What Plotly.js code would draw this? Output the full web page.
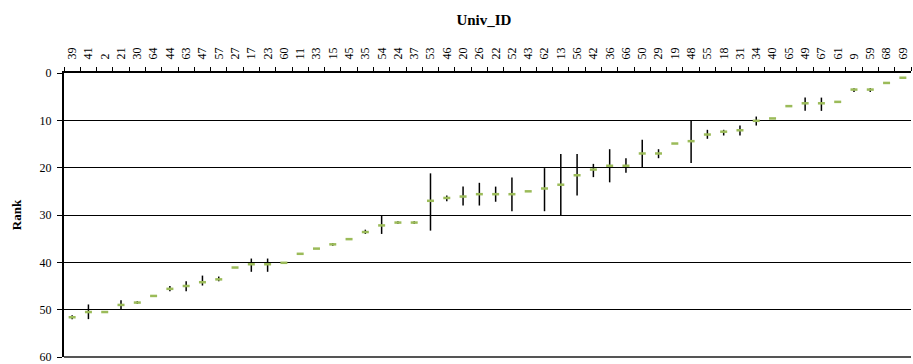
<!DOCTYPE html>
<html>
<head>
<meta charset="utf-8">
<script src="https://cdn.plot.ly/plotly-3.0.1.min.js"></script>
<style>html,body{margin:0;padding:0;background:#fff;}#chart{width:913px;height:364px;}</style>
</head>
<body>
<div id="chart"></div>
<script>
var univIds = ["39","41","2","21","30","64","44","63","47","57","27","17","23","60","11","33","15","45","35","54","24","37","53","46","20","26","22","52","43","62","13","56","42","36","66","50","29","19","48","55","18","31","34","40","65","49","67","61","9","59","68","69"];
var meanRank = [51.6,50.5,50.5,49.0,48.5,47.1,45.6,45.0,44.2,43.6,41.1,40.4,40.4,40.1,38.2,37.1,36.2,35.1,33.6,32.2,31.6,31.6,27.0,26.4,26.1,25.6,25.6,25.6,25.0,24.4,23.6,21.6,20.4,19.6,19.6,17.0,17.0,14.9,14.4,13.0,12.4,12.1,10.1,9.6,7.0,6.4,6.4,6.1,3.5,3.5,2.1,1.0];
var bestRank = [51.2,48.9,50.5,48.0,48.2,47.1,45.0,44.0,42.8,43.0,41.1,39.2,39.2,40.1,38.2,37.1,35.9,35.1,33.1,30.0,31.3,31.3,21.2,25.9,24.0,23.2,24.0,22.1,25.0,20.1,17.1,17.1,19.2,16.1,18.0,14.1,16.1,14.9,10.0,12.0,12.0,11.1,9.2,9.6,7.0,5.2,5.2,6.1,3.2,3.2,2.1,1.0];
var worstRank = [52.0,52.0,50.5,50.0,48.8,47.1,46.1,46.1,44.9,44.0,41.1,42.0,42.0,40.1,38.2,37.1,36.5,35.1,34.0,34.0,31.9,31.9,33.3,27.1,28.0,28.0,27.2,29.2,25.0,29.2,30.0,25.9,22.0,23.1,21.1,20.0,18.0,14.9,19.0,13.9,13.2,13.2,11.1,9.6,7.0,8.0,8.0,6.1,4.0,4.0,2.1,1.0];
var yTicks = [0,10,20,30,40,50,60];

var plusArr = worstRank.map(function(v,i){return Math.max(0, v - meanRank[i]);});
var minusArr = bestRank.map(function(v,i){return Math.max(0, meanRank[i] - v);});

var trace = {
  type: "scatter",
  mode: "markers",
  x: univIds,
  y: meanRank,
  marker: {symbol: "line-ew-open", size: 5, color: "#9BBB59", line: {color: "#9BBB59", width: 2.5}},
  error_y: {type: "data", symmetric: false, array: plusArr, arrayminus: minusArr, color: "#000000", thickness: 1.5, width: 0},
  hoverinfo: "x+y",
  showlegend: false
};

var layout = {
  width: 913, height: 364,
  margin: {l: 64, r: 2, t: 73, b: 7, pad: 0},
  paper_bgcolor: "#ffffff", plot_bgcolor: "#ffffff",
  title: {text: "<b>Univ_ID</b>", font: {family: "Liberation Serif, Times New Roman, serif", size: 15, color: "#000"}, x: 0.53, xanchor: "center", y: 1 - 20/364, yanchor: "middle", yref: "container"},
  xaxis: {
    type: "category", side: "top", tickangle: -90,
    tickson: "boundaries", ticks: "outside", ticklen: 4, tickcolor: "#000", tickwidth: 1,
    ticklabelstandoff: 9,
    showline: true, linecolor: "#000", linewidth: 2,
    showgrid: false, zeroline: false,
    tickfont: {family: "Liberation Serif, Times New Roman, serif", size: 12, color: "#000"},
    range: [-0.5, univIds.length - 0.5]
  },
  yaxis: {
    range: [60, 0], tickvals: yTicks, ticktext: yTicks.map(String),
    ticks: "outside", ticklen: 5, tickcolor: "#000", tickwidth: 1,
    ticklabeloverflow: "allow", ticklabelstandoff: 3,
    showline: true, linecolor: "#000", linewidth: 2,
    showgrid: true, gridcolor: "#000", gridwidth: 1, zeroline: false,
    tickfont: {family: "Liberation Serif, Times New Roman, serif", size: 12, color: "#000"},
    title: {text: "<b>Rank</b>", font: {family: "Liberation Serif, Times New Roman, serif", size: 13, color: "#000"}, standoff: 15}
  },
  shapes: [{type: "line", xref: "paper", yref: "paper", x0: 0, x1: 1, y0: 0, y1: 0, layer: "above", line: {color: "#555", width: 2}}]
};

Plotly.newPlot("chart", [trace], layout, {displayModeBar: false, staticPlot: true});
</script>
</body>
</html>
